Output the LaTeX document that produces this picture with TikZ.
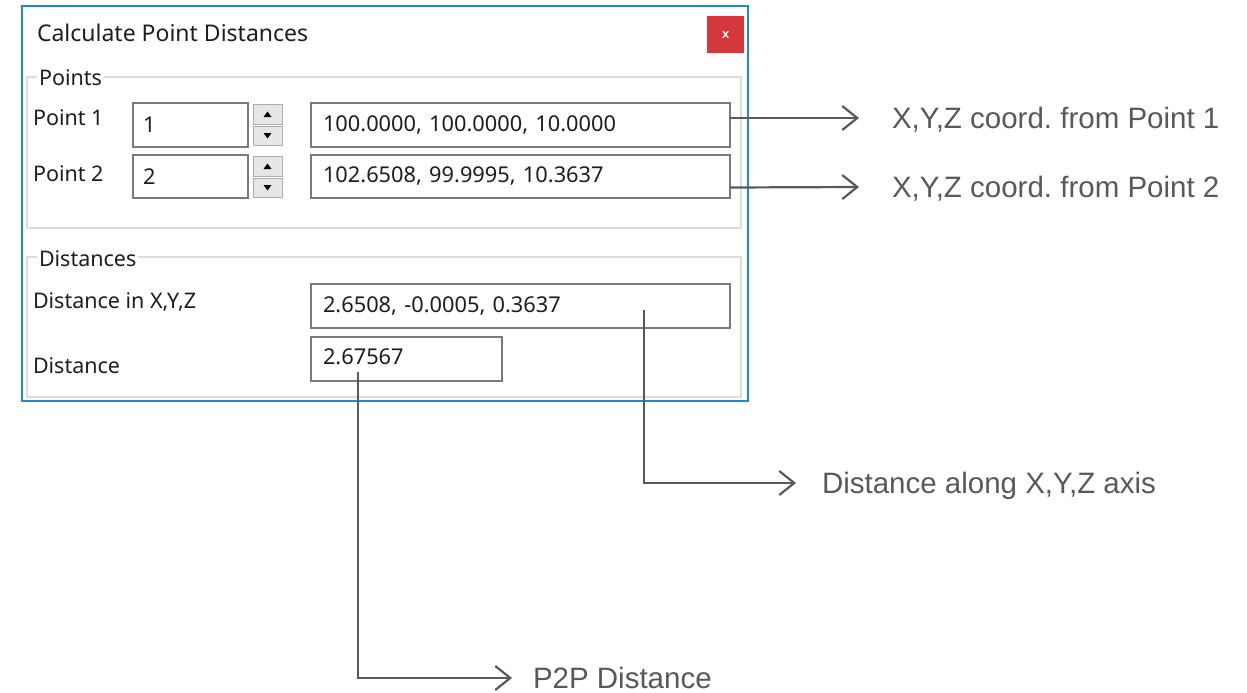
\documentclass[tikz,border=0pt]{standalone}
\usepackage{fontspec}
\newfontfamily\uifont{Noto Sans}
\newfontfamily\annfont{Liberation Sans}
\usetikzlibrary{arrows.meta,calc}
\frenchspacing
\definecolor{winblue}{HTML}{1E8AD2}
\definecolor{grpgray}{HTML}{DCDCDC}
\definecolor{boxgray}{HTML}{7A7A7A}
\definecolor{btnfill}{HTML}{E6E6E6}
\definecolor{btnedge}{HTML}{ADADAD}
\definecolor{uitext}{HTML}{1E1E1E}
\definecolor{anngray}{HTML}{595959}
\definecolor{closered}{HTML}{D2383C}
\tikzset{
  uitxt/.style={font=\uifont\fontsize{21.5}{25}\selectfont, text=uitext, inner sep=0pt, outer sep=0pt},
  field/.style={draw=boxgray, line width=1.4pt, fill=white, rectangle, anchor=north west,
     inner xsep=12pt, inner ysep=0pt, outer sep=0pt, align=left,
     font=\uifont\fontsize{21.8}{25}\selectfont, text=uitext},
  spinbtn/.style={draw=btnedge, line width=1pt, fill=btnfill},
  grp/.style={draw=grpgray, line width=1.3pt},
  grplbl/.style={uitxt, fill=white, inner xsep=2pt, anchor=west},
  ann/.style={font=\annfont\fontsize{29.5}{33}\selectfont, text=anngray, inner sep=0pt, outer sep=0pt, anchor=base west},
  conn/.style={draw=anngray, line width=2.2pt, -{Straight Barb[length=15pt,width=24pt,line width=2.2pt]}},
}
\begin{document}
\begin{tikzpicture}[x=1pt,y=-1pt]
\useasboundingbox[fill=white] (0,0) rectangle (1247,693);

% window
\draw[draw=winblue, line width=2pt, fill=white] (22,6) rectangle (748,401);
\node[uitxt, font=\uifont\fontsize{23}{27}\selectfont, anchor=west] (title) at (37,33) {Calculate Point Distances};
\node[fill=closered, minimum width=37pt, minimum height=37pt, inner sep=0pt, anchor=north west] (close) at (707,16) {};
\node[font=\annfont\bfseries\fontsize{13}{14}\selectfont, text=white, inner sep=0pt] (closex) at (close.center) {x};

% Points group
\draw[grp] (27,77) rectangle (741,228);
\node[grplbl] (gpoints) at (37,78) {Points};

\node[uitxt, anchor=west] (lp1) at (33,118) {Point 1};
\node[uitxt, anchor=west] (lp2) at (33,174) {Point 2};

\node[field, text width=95pt, minimum height=44pt, inner xsep=10pt] (sp1) at (133,103) {1};
\node[field, text width=95pt, minimum height=43pt, inner xsep=10pt] (sp2) at (133,155) {2};

\draw[spinbtn] (253,104) rectangle (282,124);
\draw[spinbtn] (253,126) rectangle (282,145);
\draw[spinbtn] (253,156) rectangle (282,176);
\draw[spinbtn] (253,178) rectangle (282,197);
\fill[black] (263.5,117) -- (271.5,117) -- (267.5,111.5) -- cycle;
\fill[black] (263.5,133) -- (271.5,133) -- (267.5,138.5) -- cycle;
\fill[black] (263.5,169) -- (271.5,169) -- (267.5,163.5) -- cycle;
\fill[black] (263.5,185) -- (271.5,185) -- (267.5,190.5) -- cycle;

\node[field, text width=395pt, minimum height=44pt] (tb1) at (311,103) {100.0000, 100.0000, 10.0000};
\node[field, text width=395pt, minimum height=43pt] (tb2) at (311,155) {102.6508, 99.9995, 10.3637};

% Distances group
\draw[grp] (27,257) rectangle (741,397);
\node[grplbl] (gdist) at (37,259) {Distances};

\node[uitxt, anchor=west] (ldxyz) at (33,302) {Distance in X,Y,Z};
\node[uitxt, anchor=west] (ldist) at (33,366) {Distance};

\node[field, text width=395pt, minimum height=44pt] (dxyz) at (311,284) {2.6508, -0.0005, 0.3637};
\node[field, text width=167pt, minimum height=44pt, text depth=8pt, text height=18pt] (dist) at (311,337) {2.67567};

% annotations
\node[ann] (a1) at (892,128.5) {X,Y,Z coord. from Point 1};
\node[ann] (a2) at (892,197.5) {X,Y,Z coord. from Point 2};
\node[ann] (a3) at (822,493.5) {Distance along X,Y,Z axis};
\node[ann] (a4) at (533,688.5) {P2P Distance};

\draw[conn] ([yshift=7pt]tb1.east) -- ([xshift=-33pt,yshift=10.5pt]a1.base west);
\draw[conn] ([yshift=-11pt]tb2.east) -- ([xshift=-33pt,yshift=10.5pt]a2.base west);
\draw[conn] ([xshift=123.5pt,yshift=-4pt]dxyz.center) |- ([xshift=-26pt,yshift=10.5pt]a3.base west);
\draw[conn] ([xshift=-48.5pt,yshift=-13pt]dist.center) |- ([xshift=-21pt,yshift=10.5pt]a4.base west);
\end{tikzpicture}
\end{document}
